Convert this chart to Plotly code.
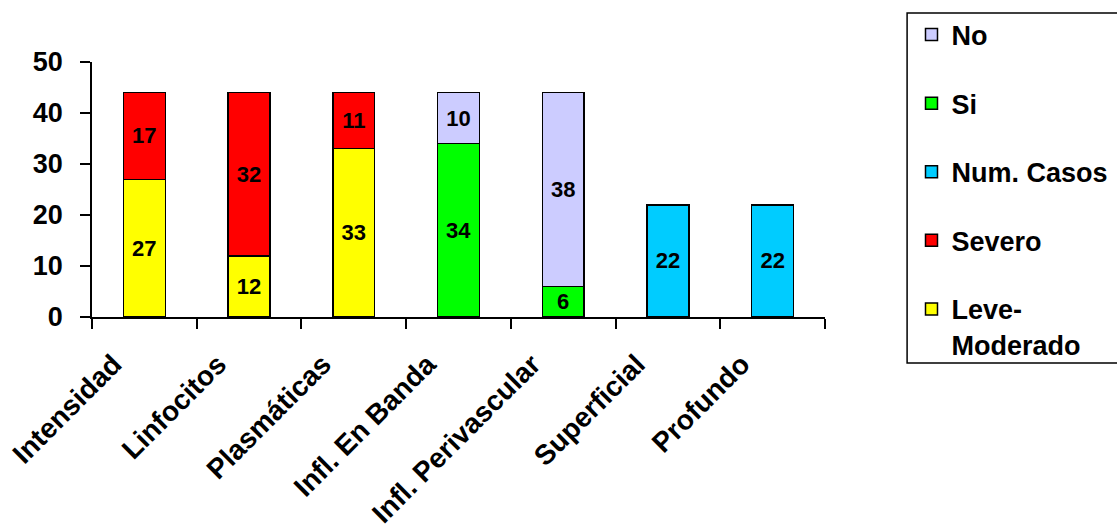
import plotly.graph_objects as go

categories = ["Intensidad", "Linfocitos", "Plasmáticas", "Infl. En Banda",
              "Infl. Perivascular", "Superficial", "Profundo"]
leve_moderado = [27, 12, 33, None, None, None, None]
severo = [17, 32, 11, None, None, None, None]
num_casos = [None, None, None, None, None, 22, 22]
si = [None, None, None, 34, 6, None, None]
no = [None, None, None, 10, 38, None, None]
y_ticks = [0, 10, 20, 30, 40, 50]

series = [
    ("Leve-<br>Moderado", leve_moderado, "#FFFF00", 5),
    ("Severo", severo, "#FF0000", 4),
    ("Num. Casos", num_casos, "#00CCFF", 3),
    ("Si", si, "#00FF00", 2),
    ("No", no, "#CCCCFF", 1),
]

FONT = "Liberation Sans, Arial, sans-serif"

fig = go.Figure()
for i, (name, vals, color, rank) in enumerate(series):
    fig.add_trace(go.Bar(
        x=categories, y=vals, name=name, legendgroup=f"g{i}", legendrank=rank,
        marker=dict(color=color, line=dict(color="black", width=1.5)),
        text=[("" if v is None else str(v)) for v in vals],
        textposition="inside", insidetextanchor="middle", textangle=0,
        constraintext="none",
        textfont=dict(family=FONT, size=22, color="black", weight="bold"),
        hoverinfo="skip",
    ))

# legend frame (extends past the right edge of the page, as in the original)
fig.add_shape(type="rect", xref="paper", yref="paper",
              x0=1.112, x1=1.42, y0=-0.18, y1=1.192,
              line=dict(color="black", width=1.5), fillcolor="rgba(0,0,0,0)",
              layer="above")

fig.update_layout(
    barmode="stack", bargap=0.6,
    width=1117, height=529,
    margin=dict(l=92, r=292, t=62, b=212, autoexpand=False),
    plot_bgcolor="white", paper_bgcolor="white",
    font=dict(family=FONT, color="black", weight="bold"),
    showlegend=True,
    legend=dict(
        x=1.118, xanchor="left", y=1.202, yanchor="top",
        traceorder="grouped", tracegroupgap=30.5, valign="top",
        borderwidth=0, bgcolor="rgba(0,0,0,0)",
        font=dict(family=FONT, size=27, color="black", weight="bold"),
        maxheight=500,
    ),
    uniformtext=dict(minsize=22, mode="show"),
)
fig.update_xaxes(
    type="category", showline=True, linecolor="black", linewidth=1.5,
    ticks="outside", tickson="boundaries", ticklen=10, tickwidth=1.5, tickcolor="black",
    tickangle=-45, showgrid=False, zeroline=False, automargin=False,
    ticklabelstandoff=18, ticklabelshift=-31,
    tickfont=dict(family=FONT, size=28, color="black", weight="bold"),
)
fig.update_yaxes(
    range=[0, 50], tickvals=y_ticks, showline=True, linecolor="black", linewidth=1.5,
    ticks="outside", ticklen=10, tickwidth=1.5, tickcolor="black",
    showgrid=False, zeroline=False, ticklabelstandoff=12, automargin=False,
    tickfont=dict(family=FONT, size=27, color="black", weight="bold"),
)

fig.write_html("out.html")
